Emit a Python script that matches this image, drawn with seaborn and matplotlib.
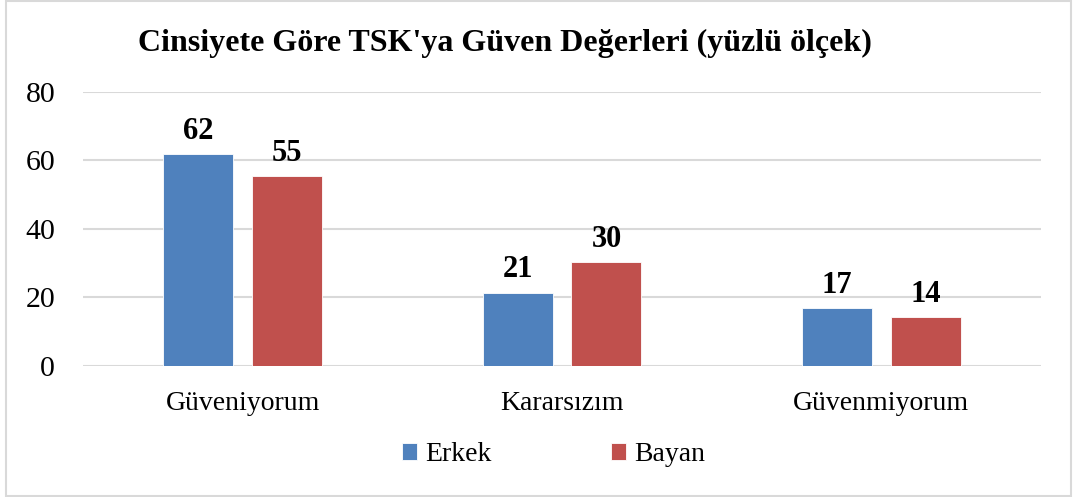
import matplotlib
matplotlib.use("Agg")
import matplotlib.pyplot as plt
import seaborn as sns
import pandas as pd
from matplotlib.patches import Rectangle

categories = ["Güveniyorum", "Kararsızım", "Güvenmiyorum"]
erkek = [61.9, 21.4, 16.8]
bayan = [55.4, 30.4, 14.2]
series_names = ["Erkek", "Bayan"]
colors = ["#4F81BD", "#C0504D"]
title = "Cinsiyete Göre TSK'ya Güven Değerleri (yüzlü ölçek)"

df = pd.DataFrame({
    "Kategori": categories * 2,
    "Değer": erkek + bayan,
    "Cinsiyet": [series_names[0]] * 3 + [series_names[1]] * 3,
})

sns.set_theme(style="white")
plt.rcParams['font.family'] = ['Liberation Serif', 'DejaVu Serif']
plt.rcParams['text.color'] = 'black'

fig = plt.figure(figsize=(10.75, 4.97), dpi=100)
ax = fig.add_axes([0.0772, 0.2636, 0.8912, 0.5513])

sns.barplot(data=df, x="Kategori", y="Değer", hue="Cinsiyet", order=categories,
            hue_order=series_names, palette=colors, width=0.557, gap=0.213,
            saturation=1, ax=ax, legend=True, edgecolor="white", linewidth=0.6)

ax.set_ylim(0, 80)
ax.set_yticks([0, 20, 40, 60, 80])
ax.set_xlim(-0.5, 2.5)
ax.yaxis.grid(True, color="#D9D9D9", linewidth=1.5)
ax.set_axisbelow(True)
for s in ax.spines.values():
    s.set_visible(False)
ax.tick_params(axis="y", labelsize=21.5, length=0, pad=20, colors="black")
ax.tick_params(axis="x", labelsize=20, length=0, pad=18, colors="black")
ax.set_xlabel("")
ax.set_ylabel("")

for cont in ax.containers:
    ax.bar_label(cont, fmt="%.0f", fontsize=22, fontweight="bold", padding=6, color="black")

handles, labels = ax.get_legend_handles_labels()
ax.legend_.remove()
fig.legend(handles, labels, loc="center", bbox_to_anchor=(0.515, 0.085), ncol=2,
           frameon=False, fontsize=20, handlelength=0.55, handleheight=0.55,
           handletextpad=0.3, columnspacing=4.3)

fig.text(0.47, 0.913, title, ha="center", va="center", fontsize=23, fontweight="bold",
         color="black")

fig.patches.append(Rectangle((0.006, 0.003), 0.99, 0.994, transform=fig.transFigure,
                             fill=False, edgecolor="#D9D9D9", linewidth=1.5))

fig.savefig("out.png", dpi=100)
